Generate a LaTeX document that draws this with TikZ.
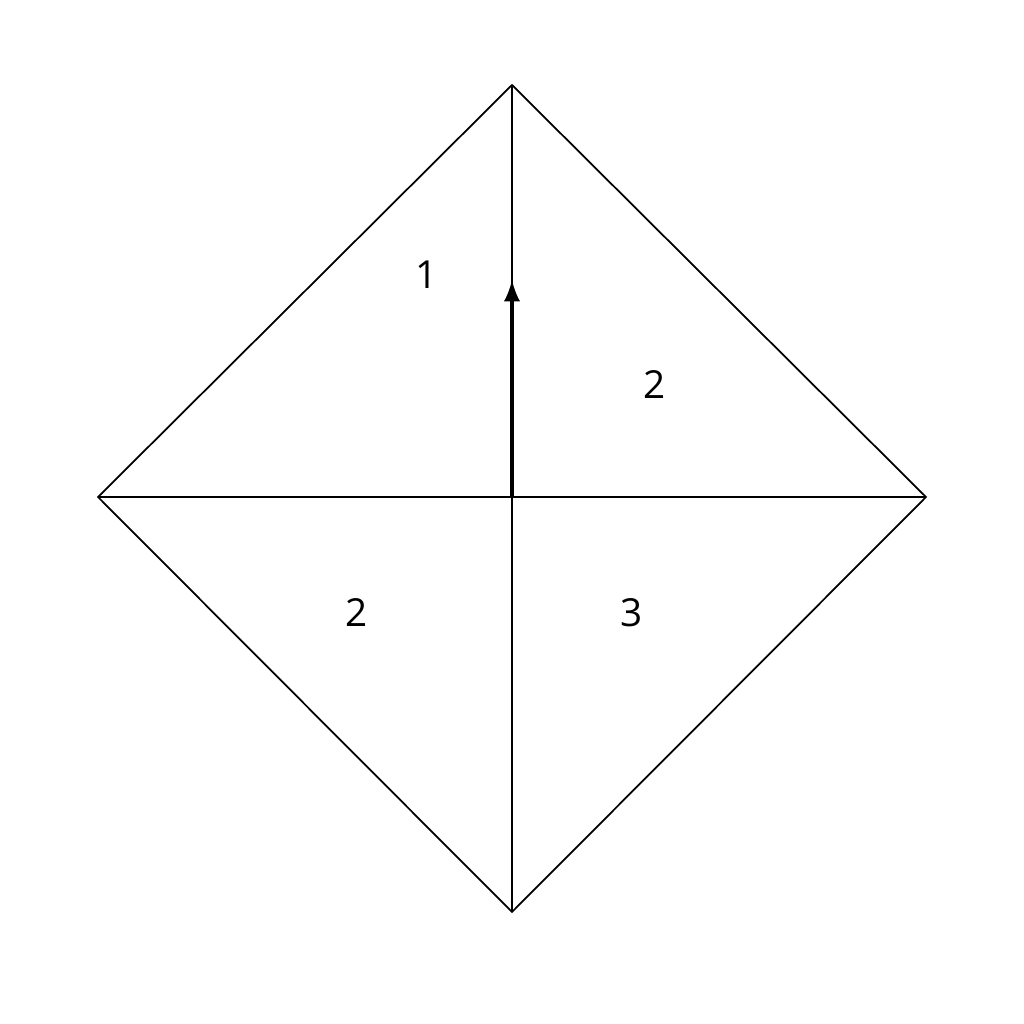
\documentclass[tikz,border=0pt]{standalone}
\usepackage{fontspec}
\setmainfont{Open Sans}
\begin{document}
\begin{tikzpicture}[font=\fontsize{11}{13}\selectfont]

			\useasboundingbox (0,0) rectangle (10.24,10.24);

			\coordinate (top) at (5.12,9.39);
			\coordinate (bottom) at (5.12,1.12);
			\coordinate (left) at (0.98,5.27);
			\coordinate (right) at (9.26,5.27);
			\coordinate (centre) at (5.12,5.27);
			\coordinate (tip) at (5.12,7.44);

			\draw [line width=0.5pt] (top) -- (right) -- (bottom) -- (left) -- cycle;
			\draw [line width=0.5pt] (left) -- (right);
			\draw [line width=0.5pt] (top) -- (bottom);
			\draw [line width=1.1pt,-latex] (centre) -- (tip);

			\node (one) at (4.27,7.49) {1};
			\node (twoa) at (6.55,6.39) {2};
			\node (twob) at (3.57,4.11) {2};
			\node (three) at (6.32,4.11) {3};

		\end{tikzpicture}
\end{document}
